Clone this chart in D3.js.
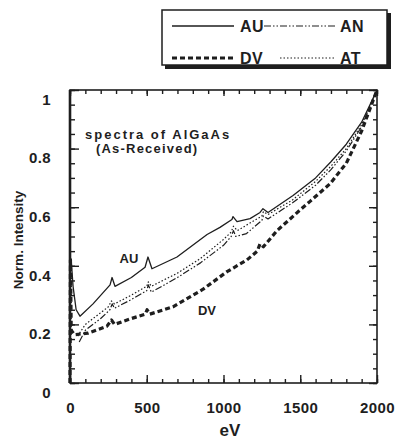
<!DOCTYPE html>
<html>
<head>
<meta charset="utf-8">
<script src="https://cdn.jsdelivr.net/npm/d3@7"></script>
<style>
  body { margin: 0; background: #fff; }
  svg { font-family: "Liberation Sans", Arial, sans-serif; }
</style>
</head>
<body>
<svg id="chart" width="396" height="439"></svg>
<script>
// values (eV, normalized intensity)
var auEnergy = [0, 8, 20, 40, 65, 150, 261, 274, 293, 400, 489, 508, 534, 697, 893, 977, 1055, 1062, 1088, 1173, 1238, 1257, 1290, 1453, 1600, 1700, 1800, 1900, 2000];
var auValue  = [0.43, 0.42, 0.33, 0.25, 0.228, 0.27, 0.335, 0.36, 0.33, 0.36, 0.395, 0.43, 0.39, 0.43, 0.507, 0.531, 0.558, 0.568, 0.551, 0.561, 0.582, 0.595, 0.582, 0.64, 0.70, 0.755, 0.815, 0.89, 1.0];

var anEnergy = [60, 100, 200, 260, 275, 290, 400, 500, 510, 530, 700, 850, 1000, 1050, 1065, 1080, 1150, 1250, 1260, 1290, 1450, 1600, 1700, 1800, 1900, 2000];
var anValue  = [0.14, 0.18, 0.22, 0.25, 0.27, 0.255, 0.285, 0.315, 0.335, 0.31, 0.36, 0.41, 0.47, 0.5, 0.52, 0.5, 0.51, 0.555, 0.57, 0.56, 0.615, 0.675, 0.728, 0.792, 0.875, 1.0];

var atEnergy = [50, 100, 200, 250, 270, 290, 400, 500, 510, 530, 700, 850, 1000, 1050, 1065, 1090, 1250, 1260, 1290, 1450, 1600, 1700, 1800, 1900, 2000];
var atValue  = [0.16, 0.2, 0.24, 0.26, 0.28, 0.27, 0.3, 0.33, 0.345, 0.33, 0.375, 0.425, 0.49, 0.515, 0.535, 0.52, 0.57, 0.585, 0.575, 0.625, 0.688, 0.74, 0.80, 0.882, 1.0];

var dvEnergy = [0, 3, 8, 30, 117, 241, 270, 290, 400, 490, 502, 520, 671, 867, 1023, 1153, 1220, 1238, 1260, 1349, 1498, 1564, 1694, 1800, 1900, 2000];
var dvValue  = [0.0, 0.42, 0.18, 0.165, 0.17, 0.194, 0.215, 0.2, 0.22, 0.235, 0.25, 0.235, 0.26, 0.32, 0.38, 0.42, 0.45, 0.475, 0.465, 0.52, 0.59, 0.62, 0.68, 0.75, 0.86, 1.0];

var xTicks = [0, 500, 1000, 1500, 2000];
var yTicks = [0, 0.2, 0.4, 0.6, 0.8, 1];
var seriesNames = ["AU", "AN", "DV", "AT"];

var ink = "#1e1e1e";
var svg = d3.select("#chart");

var x = d3.scaleLinear().domain([0, 2000]).range([70, 377]);
var y = d3.scaleLinear().domain([0, 1]).range([383, 90]);

var styles = {
  AU: { width: 1.3, dash: null },
  AN: { width: 1.2, dash: "7,2,1.5,2,1.5,2" },
  DV: { width: 3.2, dash: "5,3" },
  AT: { width: 1.2, dash: "1.5,2" }
};

var series = [
  { name: "AU", e: auEnergy, v: auValue },
  { name: "AN", e: anEnergy, v: anValue },
  { name: "AT", e: atEnergy, v: atValue },
  { name: "DV", e: dvEnergy, v: dvValue }
];

var line = d3.line()
  .x(d => x(d[0]))
  .y(d => y(d[1]));

// curves
svg.append("g").selectAll("path")
  .data(series)
  .join("path")
  .attr("d", s => line(d3.zip(s.e, s.v)))
  .attr("fill", "none")
  .attr("stroke", ink)
  .attr("stroke-width", s => styles[s.name].width)
  .attr("stroke-dasharray", s => styles[s.name].dash)
  .attr("stroke-linejoin", "round");

// frame
svg.append("rect")
  .attr("x", x(0)).attr("y", y(1))
  .attr("width", x(2000) - x(0)).attr("height", y(0) - y(1))
  .attr("fill", "none").attr("stroke", ink).attr("stroke-width", 1.6);
svg.append("line")
  .attr("x1", x(0)).attr("x2", x(0)).attr("y1", y(1)).attr("y2", y(0))
  .attr("stroke", ink).attr("stroke-width", 2.6);

// inward ticks on all four sides
function tickAxis(axis, tf, vals, size) {
  var g = svg.append("g").attr("transform", tf)
    .call(axis.tickValues(vals).tickSize(size).tickFormat(""));
  g.select(".domain").remove();
  g.selectAll("line").attr("stroke", ink).attr("stroke-width", 1.4);
}
var xMinor = d3.range(0, 2001, 100);
var yMinor = d3.range(0, 1.001, 0.05);
tickAxis(d3.axisTop(x), "translate(0," + y(0) + ")", xMinor, 4);
tickAxis(d3.axisTop(x), "translate(0," + y(0) + ")", xTicks, 8);
tickAxis(d3.axisBottom(x), "translate(0," + y(1) + ")", xMinor, 4);
tickAxis(d3.axisBottom(x), "translate(0," + y(1) + ")", xTicks, 6);
tickAxis(d3.axisRight(y), "translate(" + x(0) + ",0)", yMinor, 5);
tickAxis(d3.axisRight(y), "translate(" + x(0) + ",0)", yTicks, 9);
tickAxis(d3.axisLeft(y), "translate(" + x(2000) + ",0)", yMinor, 4);
tickAxis(d3.axisLeft(y), "translate(" + x(2000) + ",0)", yTicks, 8);

// tick labels
var xLab = svg.append("g")
  .attr("transform", "translate(0," + y(0) + ")")
  .call(d3.axisBottom(x).tickValues(xTicks).tickSize(0).tickPadding(19).tickFormat(d3.format("d")));
xLab.select(".domain").remove();
xLab.selectAll("text").attr("font-size", 15).attr("font-weight", "bold").attr("fill", ink)
  .attr("letter-spacing", 0.4);

var yLab = svg.append("g")
  .attr("transform", "translate(" + x(0) + ",0)")
  .call(d3.axisLeft(y).tickValues(yTicks).tickSize(0).tickPadding(19)
    .tickFormat(d => (d === 0 || d === 1) ? String(d) : d.toFixed(1)));
yLab.select(".domain").remove();
yLab.selectAll("text").attr("font-size", 15).attr("font-weight", "bold").attr("fill", ink)
  .attr("letter-spacing", 0.4)
  .attr("dy", "0.95em");

// axis titles
svg.append("text")
  .attr("x", 230).attr("y", 436)
  .attr("text-anchor", "middle")
  .attr("font-size", 17).attr("font-weight", "bold").attr("fill", ink)
  .text("eV");
svg.append("text")
  .attr("transform", "translate(23,240) rotate(-90)")
  .attr("text-anchor", "middle")
  .attr("font-size", 13.5).attr("font-weight", "bold").attr("fill", ink)
  .text("Norm. Intensity");

// annotations
svg.append("text")
  .attr("x", 85).attr("y", 139)
  .attr("font-size", 13).attr("font-weight", "bold").attr("fill", ink)
  .attr("letter-spacing", 2)
  .text("spectra of AlGaAs");
svg.append("text")
  .attr("x", 96).attr("y", 153)
  .attr("font-size", 13).attr("font-weight", "bold").attr("fill", ink)
  .attr("letter-spacing", 1.2)
  .text("(As-Received)");
svg.append("text")
  .attr("x", 129).attr("y", 263)
  .attr("text-anchor", "middle")
  .attr("font-size", 13).attr("font-weight", "bold").attr("fill", ink)
  .text("AU");
svg.append("text")
  .attr("x", 207).attr("y", 315)
  .attr("text-anchor", "middle")
  .attr("font-size", 13).attr("font-weight", "bold").attr("fill", ink)
  .text("DV");

// legend box with drop shadow
var legend = svg.append("g");
legend.append("rect")
  .attr("x", 165).attr("y", 13).attr("width", 226).attr("height", 56)
  .attr("fill", ink);
legend.append("rect")
  .attr("x", 162).attr("y", 10).attr("width", 225).attr("height", 55)
  .attr("fill", "#fff").attr("stroke", ink).attr("stroke-width", 1.5);

var legendPos = {
  AU: { x1: 172, x2: 234, tx: 240, ty: 26 },
  AN: { x1: 264, x2: 335, tx: 340, ty: 26 },
  DV: { x1: 172, x2: 234, tx: 240, ty: 58 },
  AT: { x1: 280, x2: 335, tx: 340, ty: 58 }
};
var item = legend.selectAll("g.item")
  .data(seriesNames)
  .join("g").attr("class", "item");
item.append("line")
  .attr("x1", d => legendPos[d].x1).attr("x2", d => legendPos[d].x2)
  .attr("y1", d => legendPos[d].ty).attr("y2", d => legendPos[d].ty)
  .attr("stroke", ink)
  .attr("stroke-width", d => styles[d].width)
  .attr("stroke-dasharray", d => styles[d].dash);
item.append("text")
  .attr("x", d => legendPos[d].tx).attr("y", d => legendPos[d].ty + 5.5)
  .attr("font-size", 16).attr("font-weight", "bold").attr("fill", ink)
  .attr("letter-spacing", 0.5)
  .text(d => d);
</script>
</body>
</html>
